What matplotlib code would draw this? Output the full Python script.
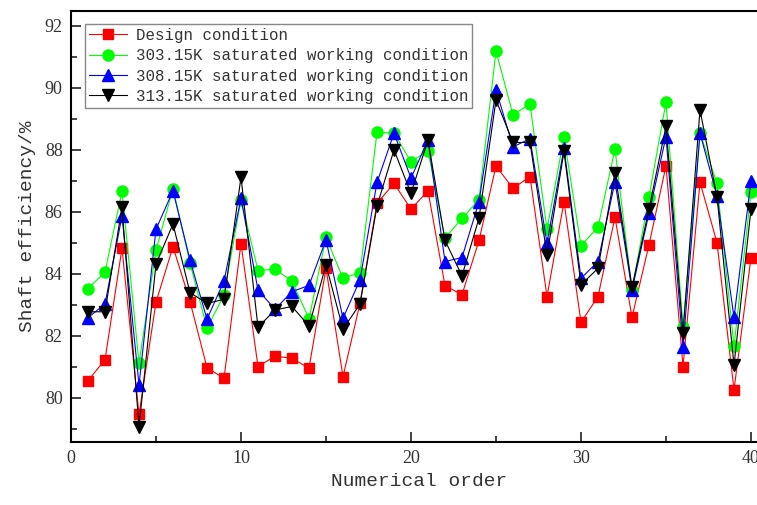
import numpy as np
import matplotlib
matplotlib.use("Agg")
import matplotlib.pyplot as plt
from matplotlib.ticker import MultipleLocator

order = np.arange(1, 41)

design = [80.56, 81.23, 84.83, 79.47, 83.09, 84.88, 83.11, 80.98, 80.63, 84.98,
          81.01, 81.35, 81.28, 80.96, 84.18, 80.69, 83.05, 86.28, 86.92, 86.09,
          86.68, 83.62, 83.33, 85.08, 87.48, 86.76, 87.14, 83.27, 86.33, 82.44,
          83.27, 85.83, 82.60, 84.94, 87.49, 81.01, 86.96, 85.01, 80.26, 84.53]

sat_303 = [83.53, 84.06, 86.67, 81.12, 84.77, 86.75, 84.35, 82.25, 83.32, 86.39,
           84.11, 84.15, 83.77, 82.55, 85.18, 83.86, 84.04, 88.57, 88.54, 87.62,
           87.98, 85.15, 85.80, 86.39, 91.19, 89.13, 89.48, 85.44, 88.41, 84.91,
           85.51, 88.03, 83.48, 86.49, 89.54, 82.30, 88.54, 86.92, 81.66, 86.63]

sat_308 = [82.59, 83.03, 85.87, 80.42, 85.44, 86.68, 84.45, 82.54, 83.77, 86.44,
           83.48, 82.86, 83.43, 83.63, 85.10, 82.57, 83.81, 86.95, 88.54, 87.09,
           88.32, 84.40, 84.53, 86.33, 89.94, 88.10, 88.36, 84.99, 88.05, 83.86,
           84.40, 86.98, 83.48, 85.96, 88.43, 81.63, 88.54, 86.52, 82.60, 87.00]

sat_313 = [82.78, 82.78, 86.15, 79.07, 84.32, 85.61, 83.40, 83.05, 83.18, 87.12,
           82.28, 82.84, 82.95, 82.32, 84.29, 82.22, 83.03, 86.19, 88.00, 86.60,
           88.32, 85.08, 83.94, 85.80, 89.61, 88.24, 88.24, 84.61, 87.95, 83.65,
           84.18, 87.27, 83.57, 86.09, 88.77, 82.11, 89.29, 86.49, 81.06, 86.09]

labels = ["Design condition",
          "303.15K saturated working condition",
          "308.15K saturated working condition",
          "313.15K saturated working condition"]

fig = plt.figure(figsize=(7.57, 5.05), dpi=100)
ax = fig.add_axes([71 / 757, 63 / 505, 17 * 41 / 757, 431 / 505])

ax.plot(order, design, color="#FF0000", marker="s", markersize=7.2, lw=0.8, label=labels[0])
ax.plot(order, sat_303, color="#00FF00", marker="o", markersize=8, lw=0.8, label=labels[1])
ax.plot(order, sat_308, color="#0000FF", marker="^", markersize=8.5, lw=0.8, label=labels[2])
ax.plot(order, sat_313, color="#000000", marker="v", markersize=8.5, lw=0.8, label=labels[3])

ax.set_xlim(0, 41)
ax.set_ylim(78.58, 92.48)
ax.xaxis.set_major_locator(MultipleLocator(10))
ax.xaxis.set_minor_locator(MultipleLocator(5))
ax.yaxis.set_major_locator(MultipleLocator(2))
ax.yaxis.set_minor_locator(MultipleLocator(1))

for s in ax.spines.values():
    s.set_linewidth(1.5)
ax.spines["right"].set_visible(False)

ax.tick_params(which="both", direction="in", width=1.2, colors="#222222")
ax.tick_params(which="major", length=7, labelsize=13, pad=6)
ax.tick_params(which="minor", length=4)
for t in ax.get_xticklabels() + ax.get_yticklabels():
    t.set_family("Liberation Serif")
    t.set_color("#333333")

ax.set_xlabel("Numerical order", family="Liberation Mono", fontsize=14,
              color="#333333", labelpad=4)
ax.set_ylabel("Shaft efficiency/%", family="Liberation Mono", fontsize=14,
              color="#333333", labelpad=6)

leg = ax.legend(loc="upper left", bbox_to_anchor=(85 / 757, 1 - 24 / 505),
                bbox_transform=fig.transFigure, borderaxespad=0,
                prop={"family": "Liberation Mono", "size": 11.3},
                handlelength=2.4, handletextpad=0.6, labelspacing=0.34,
                borderpad=0.25, fancybox=False, framealpha=1, numpoints=1)
leg.get_frame().set_edgecolor("#888888")
leg.get_frame().set_linewidth(1.0)
for t in leg.get_texts():
    t.set_color("#333333")

fig.savefig("out.png", dpi=100)
